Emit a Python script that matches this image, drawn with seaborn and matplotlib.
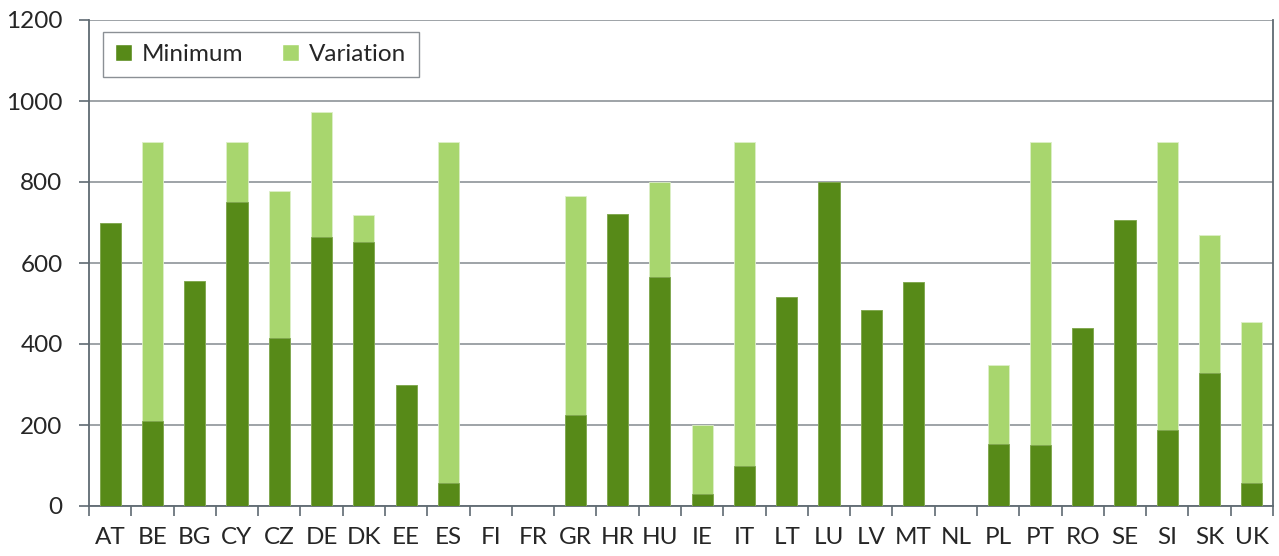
import matplotlib
matplotlib.use("Agg")
import matplotlib.pyplot as plt
import seaborn as sns
import pandas as pd
import numpy as np
from matplotlib.patches import Patch

# ── Données ──────────────────────────────────────────────────
countries = ["AT", "BE", "BG", "CY", "CZ", "DE", "DK", "EE", "ES", "FI",
             "FR", "GR", "HR", "HU", "IE", "IT", "LT", "LU", "LV", "MT",
             "NL", "PL", "PT", "RO", "SE", "SI", "SK", "UK"]
minimum = [700, 210, 556, 750, 416, 664, 652, 300, 58, 0,
           0, 224, 722, 566, 30, 100, 516, 800, 484, 553,
           0, 153, 150, 440, 707, 187, 328, 58]
total = [700, 900, 556, 900, 778, 974, 718, 300, 900, 0,
         0, 765, 722, 800, 200, 900, 516, 800, 484, 553,
         0, 347, 900, 440, 707, 900, 669, 454]
variation = [t - m for t, m in zip(total, minimum)]

df = pd.DataFrame({"country": countries, "minimum": minimum,
                   "variation": variation})
df["total"] = df["minimum"] + df["variation"]

DARK = "#578A18"
LIGHT = "#A8D66E"
GRID = "#8E9398"
AXIS = "#5F6A72"
FS = 17.5

sns.set_style("white")
plt.rcParams["font.family"] = ["Lato", "DejaVu Sans"]

fig = plt.figure(figsize=(12.79, 5.56), dpi=100)
ax = fig.add_axes([89 / 1279, 50 / 556, 1184 / 1279, 486 / 556])

# barres empilées : total (clair) puis minimum (foncé) par-dessus
sns.barplot(data=df, x="country", y="total", color=LIGHT, width=0.5,
            edgecolor="#DDEFC8", linewidth=0.6, saturation=1, ax=ax, zorder=3)
sns.barplot(data=df, x="country", y="minimum", color=DARK, width=0.5,
            edgecolor="#7FA64E", linewidth=0.6, saturation=1, ax=ax, zorder=4)

n = len(countries)
ax.set_xlim(-0.5, n - 0.5)
ax.set_ylim(0, 1200)
ax.set_yticks(np.arange(0, 1201, 200))
ax.yaxis.grid(True, color=GRID, linewidth=1.2, zorder=0)
ax.set_axisbelow(True)

# ticks x : traits entre catégories, étiquettes au centre
ax.set_xticks(np.arange(-0.5, n, 1.0))
ax.set_xticklabels([])
ax.set_xticks(np.arange(n), minor=True)
ax.set_xticklabels(countries, minor=True)
ax.tick_params(axis="x", which="major", length=7, width=1.2, color=AXIS,
               direction="out", bottom=True)
ax.tick_params(axis="x", which="minor", length=0, pad=15, labelsize=FS)
ax.tick_params(axis="y", length=7, width=1.2, color=AXIS, direction="out",
               left=True, pad=12, labelsize=FS)

ax.set_xlabel("")
ax.set_ylabel("")

for side in ["left", "right", "bottom"]:
    ax.spines[side].set_visible(True)
    ax.spines[side].set_color(AXIS)
    ax.spines[side].set_linewidth(1.3)
ax.spines["top"].set_visible(False)

handles = [Patch(facecolor=DARK, label="Minimum"),
           Patch(facecolor=LIGHT, label="Variation")]
leg = ax.legend(handles=handles, loc="upper left", ncol=2,
                bbox_to_anchor=(0.012, 0.976), borderaxespad=0,
                fontsize=FS, frameon=True, fancybox=False,
                handlelength=0.7, handleheight=0.7, handletextpad=0.4,
                columnspacing=1.6, borderpad=0.5)
leg.get_frame().set_edgecolor("#6E757B")
leg.get_frame().set_linewidth(1.0)

fig.savefig("out.png", dpi=100)
